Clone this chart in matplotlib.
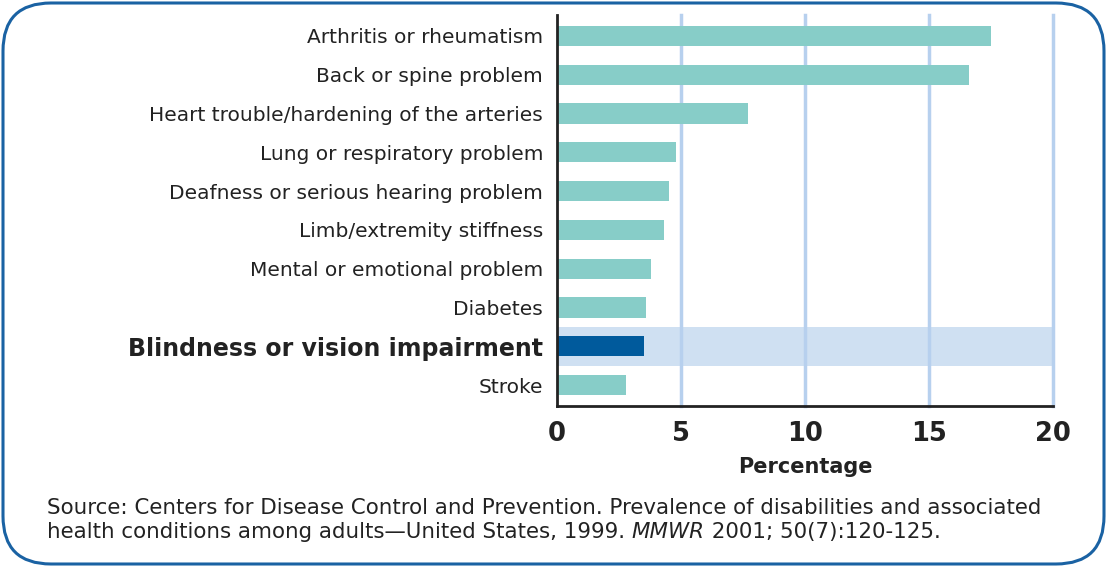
import matplotlib.pyplot as plt
from matplotlib.patches import FancyBboxPatch

categories = ["Arthritis or rheumatism", "Back or spine problem",
              "Heart trouble/hardening of the arteries", "Lung or respiratory problem",
              "Deafness or serious hearing problem", "Limb/extremity stiffness",
              "Mental or emotional problem", "Diabetes",
              "Blindness or vision impairment", "Stroke"]
values = [17.5, 16.6, 7.7, 4.8, 4.5, 4.3, 3.8, 3.6, 3.5, 2.8]
highlight = "Blindness or vision impairment"
xticks = [0, 5, 10, 15, 20]

teal = "#87cdc8"
navy = "#005a9c"
band = "#cfe0f2"
grid = "#b7d0ee"
txt = "#222222"

W, H = 1107, 567
fig = plt.figure(figsize=(W / 100, H / 100), dpi=100)

# rounded frame, drawn in pixel coords
bg = fig.add_axes([0, 0, 1, 1])
bg.set_xlim(0, W)
bg.set_ylim(0, H)
bg.axis("off")
bg.add_patch(FancyBboxPatch((3, 3), W - 6, H - 6,
                            boxstyle="round,pad=0,rounding_size=48",
                            fc="white", ec="#1a62a3", lw=2.2))

ax = fig.add_axes([557 / W, 1 - 406 / H, (1053 - 557) / W, (406 - 15) / H])
ax.set_facecolor("none")
ypos = list(range(len(categories)))

hi = categories.index(highlight)
ax.axhspan(hi - 0.5, hi + 0.5, color=band, zorder=0, lw=0)
for t in xticks[1:]:
    ax.axvline(t, color=grid, lw=2.5, zorder=1, clip_on=False)

colors = [navy if c == highlight else teal for c in categories]
ax.barh(ypos, values, height=0.52, color=colors, zorder=2)

ax.set_xlim(0, 20)
ax.set_ylim(len(categories) - 0.46, -0.54)
ax.set_xticks(xticks)
ax.set_xticklabels([str(t) for t in xticks], fontsize=18.5, fontweight="bold", color=txt)
ax.set_yticks(ypos)
ax.set_yticklabels(categories, fontsize=14.5, color=txt)
for lab in ax.get_yticklabels():
    if lab.get_text() == highlight:
        lab.set_fontsize(17)
        lab.set_fontweight("bold")
ax.tick_params(axis="both", length=0)
ax.tick_params(axis="y", pad=10)
ax.tick_params(axis="x", pad=11)
ax.set_xlabel("Percentage", fontsize=15, fontweight="bold", color=txt, labelpad=7)
for s in ["top", "right"]:
    ax.spines[s].set_visible(False)
for s in ["left", "bottom"]:
    ax.spines[s].set_color("#222222")
    ax.spines[s].set_linewidth(2)

# source note
fs = 15.4
fig.text(47 / W, 1 - 508 / H, "Source: Centers for Disease Control and Prevention. "
         "Prevalence of disabilities and associated", fontsize=fs, color=txt, va="center")
r = fig.canvas.get_renderer()
x0 = 47
parts = [("health conditions among adults\u2014United States, 1999. ", "normal"),
         ("MMWR", "italic"), (" 2001; 50(7):120-125.", "normal")]
for s, st in parts:
    t = fig.text(x0 / W, 1 - 532 / H, s, fontsize=fs, color=txt, va="center", style=st)
    x0 += t.get_window_extent(renderer=r).width

fig.savefig("out.png", dpi=100)
